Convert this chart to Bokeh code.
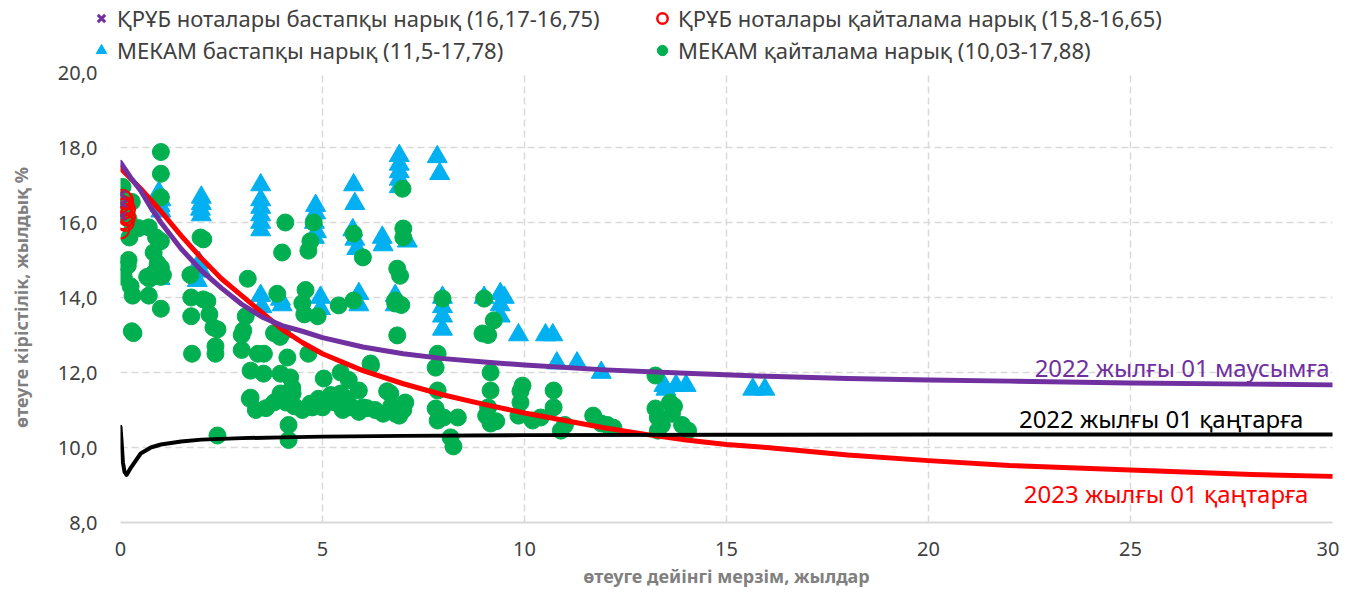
from bokeh.plotting import figure
from bokeh.layouts import column, row
from bokeh.models import Range1d, FixedTicker, Legend, LegendItem, Label
from bokeh.embed import file_html
from bokeh.resources import INLINE

FONT = "Noto Sans"
PURPLE = "#7030a0"
RED = "#ff0000"
BLUE = "#00b0f0"
GREEN = "#00b050"
GRID = "#d9d9d9"

# ---- data ----
notes_primary_x = [0.02, 0.05, 0.03]
notes_primary_y = [16.75, 16.5, 16.17]

notes_secondary_x = [0.05, 0.10, 0.02, 0.12, 0.08, 0.15, 0.05, 0.10, 0.15, 0.08, 0.12, 0.00]
notes_secondary_y = [16.65, 16.60, 16.50, 16.45, 16.40, 16.35, 16.30, 16.20, 16.15, 16.05, 16.00, 15.80]

mekam_primary_x = [0.95, 1.0, 0.98, 1.0, 0.95, 1.0, 0.98,
                   2.0, 2.0, 1.98, 2.0, 1.95, 2.0, 1.9,
                   3.47, 3.47, 3.47, 3.47, 3.47, 3.47, 3.47, 3.5, 3.96, 4.0,
                   4.83, 4.83, 4.8, 4.85, 4.8, 4.95, 4.95,
                   5.77, 5.8, 5.75, 5.8, 5.85, 5.9, 5.9,
                   6.48, 6.5, 7.1,
                   6.9, 6.9, 6.9, 6.9, 6.9, 6.8, 6.8,
                   7.84, 7.9, 7.97, 7.97, 7.97, 7.97,
                   9.0, 9.4, 9.4, 9.4, 9.5,
                   9.85, 10.52, 10.7, 10.8, 11.3, 11.9,
                   13.45, 13.75, 14.0, 13.5, 15.65, 15.95]
mekam_primary_y = [16.8, 16.6, 16.45, 16.3, 14.95, 14.7, 14.5,
                   16.67, 16.5, 16.35, 16.2, 14.93, 14.7, 14.45,
                   17.0, 16.6, 16.4, 16.2, 16.0, 15.8, 14.05, 13.75, 13.95, 13.8,
                   16.45, 16.25, 16.0, 15.75, 15.6, 14.0, 13.7,
                   17.0, 16.5, 15.8, 15.55, 15.3, 14.1, 13.8,
                   15.6, 15.4, 15.5,
                   17.78, 17.55, 17.35, 17.15, 16.95, 14.05, 13.8,
                   17.75, 17.3, 14.0, 13.75, 13.5, 13.15,
                   14.0, 14.1, 13.8, 13.5, 14.0,
                   13.0, 13.0, 13.0, 12.25, 12.25, 12.0,
                   11.65, 11.65, 11.65, 11.55, 11.55, 11.55]

mekam_secondary_x = [0.05, 0.28, 0.08, 0.2, 0.3, 0.22, 0.2, 0.18, 0.08, 0.25, 0.3, 0.32, 0.28,
                     0.7, 0.72, 1.0, 0.92, 0.82, 0.66, 1.0, 1.05, 1.0, 0.88, 1.0, 1.0, 1.0, 0.7, 0.45, 0.82, 1.0,
                     1.73, 1.98, 2.05, 1.75, 2.05, 1.75, 2.2, 2.3, 2.4, 2.35, 2.35, 1.77, 2.15, 2.4,
                     3.15, 3.04, 3.1, 3.0, 3.22, 3.4, 3.55, 3.22, 3.2, 3.35, 3.54, 3.0,
                     3.88, 3.8, 4.0, 4.13, 3.96, 4.2, 4.25, 3.96, 3.8, 4.1, 4.26, 4.16, 4.16, 4.08, 4.0, 3.95, 3.6, 4.3,
                     4.78, 4.7, 4.65, 4.58, 4.5, 4.55, 4.88, 4.65, 5.03, 4.75, 5.0, 4.7, 4.9, 4.5,
                     5.4, 5.77, 5.77, 6.0, 5.45, 5.45, 5.65, 5.9, 5.65, 6.19, 6.2, 6.0, 6.3, 5.3, 5.5, 5.7, 5.9, 6.1, 5.2, 5.6,
                     6.8, 6.85, 6.98, 7.0, 7.0, 6.85, 6.92, 6.8, 6.95, 6.68, 6.8, 6.5, 6.7, 6.9, 7.0, 6.6, 7.05,
                     7.97, 7.85, 7.8, 7.85, 7.8, 7.85, 8.0, 8.35, 8.17, 8.24,
                     9.0, 9.24, 8.96, 9.1, 9.16, 9.16, 9.1, 9.05, 9.16, 9.3, 9.95, 9.9, 9.9, 9.85, 10.2, 10.4, 10.72, 10.72, 10.9, 11.0,
                     11.7, 11.9, 12.05, 12.2,
                     13.24, 13.24, 13.3, 13.6, 13.7, 13.65, 13.9, 14.05, 13.4, 13.3]
mekam_secondary_y = [16.95, 16.55, 16.5, 16.1, 15.85, 15.6, 15.0, 14.85, 14.55, 14.3, 14.05, 13.05, 13.1,
                     14.05, 14.5, 13.7, 14.9, 14.65, 14.55, 14.8, 14.6, 14.55, 15.6, 16.67, 17.3, 17.88, 15.87, 15.85, 15.2, 15.5,
                     14.6, 15.6, 15.55, 14.0, 13.95, 13.5, 13.55, 13.2, 13.15, 12.7, 12.5, 12.5, 13.9, 10.32,
                     14.5, 13.12, 13.5, 12.6, 12.05, 12.5, 12.5, 11.33, 11.3, 11.0, 11.97, 13.0,
                     14.1, 13.05, 13.05, 12.4, 11.97, 11.87, 11.6, 11.44, 11.2, 11.2, 11.44, 10.6, 10.2, 16.0, 15.2, 12.95, 11.05, 11.1,
                     16.0, 15.5, 15.25, 14.2, 13.85, 13.55, 13.5, 12.5, 11.84, 11.07, 11.07, 11.17, 11.3, 11.0,
                     13.79, 13.92, 15.7, 15.07, 12.0, 11.44, 11.8, 11.52, 11.07, 12.24, 12.19, 11.07, 11.0, 11.2, 11.0, 11.1, 10.95, 11.05, 11.4, 11.3,
                     13.84, 12.99, 16.9, 15.84, 15.6, 14.77, 14.58, 13.92, 13.8, 11.44, 10.9, 10.9, 11.1, 10.85, 11.0, 11.5, 11.2,
                     13.97, 12.5, 12.13, 11.52, 11.04, 10.72, 10.8, 10.8, 10.27, 10.03,
                     13.97, 13.39, 13.04, 13.0, 12.0, 11.52, 11.07, 10.85, 10.64, 10.7, 11.65, 11.5, 11.2, 10.85, 10.72, 10.8, 11.52, 11.07, 10.45, 10.6,
                     10.85, 10.64, 10.6, 10.53,
                     11.92, 11.04, 10.8, 11.2, 11.1, 10.9, 10.6, 10.45, 10.6, 10.45]

curve_jun22_x = [0, 0.25, 0.5, 0.75, 1, 1.5, 2, 2.5, 3, 3.5, 4, 4.5, 5, 6, 7, 8, 9, 10, 12, 14, 16, 18, 20, 22, 25, 28, 30]
curve_jun22_y = [17.6, 17.2, 16.85, 16.4, 16.0, 15.3, 14.72, 14.25, 13.82, 13.48, 13.25, 13.1, 12.93, 12.68, 12.5,
                 12.37, 12.28, 12.2, 12.07, 11.98, 11.9, 11.84, 11.8, 11.77, 11.72, 11.69, 11.67]

curve_jan23_x = [0, 0.5, 1, 1.5, 2, 2.5, 3, 3.5, 4, 4.5, 5, 6, 7, 8, 9, 10, 11, 12, 13, 14, 15, 16, 18, 20, 22, 25, 28, 30]
curve_jan23_y = [17.45, 16.9, 16.3, 15.65, 15.05, 14.5, 14.05, 13.6, 13.15, 12.8, 12.5, 12.05, 11.7, 11.4, 11.15,
                 10.92, 10.72, 10.52, 10.35, 10.2, 10.08, 10.0, 9.8, 9.65, 9.52, 9.4, 9.28, 9.23]

curve_jan22_x = [0, 0.03, 0.06, 0.1, 0.15, 0.25, 0.5, 0.75, 1, 1.5, 2, 3, 4, 5, 7, 10, 15, 20, 25, 30]
curve_jan22_y = [10.55, 10.1, 9.6, 9.35, 9.27, 9.45, 9.84, 10.0, 10.08, 10.16, 10.21, 10.25, 10.27, 10.29, 10.31,
                 10.33, 10.34, 10.35, 10.35, 10.35]

x_ticks = [0, 5, 10, 15, 20, 25, 30]
y_ticks = [8, 10, 12, 14, 16, 18, 20]
y_tick_labels = ["8,0", "10,0", "12,0", "14,0", "16,0", "18,0", "20,0"]

legend_labels = ["ҚРҰБ ноталары бастапқы нарық (16,17-16,75)",
                 "ҚРҰБ ноталары қайталама нарық (15,8-16,65)",
                 "МЕКАМ бастапқы нарық (11,5-17,78)",
                 "МЕКАМ қайталама нарық (10,03-17,88)"]
curve_labels = ["2022 жылғы 01 маусымға", "2022 жылғы 01 қаңтарға", "2023 жылғы 01 қаңтарға"]

# ---- main figure ----
p = figure(width=1339, height=528, x_range=Range1d(0, 30), y_range=Range1d(8, 20),
           output_backend="svg", toolbar_location=None,
           min_border_left=120, min_border_right=7, min_border_top=7, min_border_bottom=71)
p.outline_line_color = None
p.background_fill_color = "white"

p.xaxis.ticker = FixedTicker(ticks=x_ticks)
p.yaxis.ticker = FixedTicker(ticks=y_ticks)
p.yaxis.major_label_overrides = {t: l for t, l in zip(y_ticks, y_tick_labels)}

for ax in (p.xaxis, p.yaxis):
    ax.major_tick_line_color = None
    ax.minor_tick_line_color = None
    ax.major_label_text_font = FONT
    ax.major_label_text_font_size = "20px"
    ax.major_label_text_color = "#404040"
    ax.axis_label_text_font = FONT
    ax.axis_label_text_font_size = "18px"
    ax.axis_label_text_font_style = "bold"
    ax.axis_label_text_color = "#808080"

p.yaxis.axis_line_color = None
p.xaxis.axis_line_color = GRID
p.xaxis.axis_line_width = 2
p.yaxis.major_label_standoff = 17
p.xaxis.major_label_standoff = 13
p.yaxis.axis_label = "өтеуге кірістілік, жылдық %"
p.xaxis.axis_label = "өтеуге дейінгі мерзім, жылдар"
p.yaxis.axis_label_standoff = 22
p.xaxis.axis_label_standoff = 5

for g in (p.xgrid, p.ygrid):
    g.grid_line_color = GRID
    g.grid_line_dash = "7 4"
    g.grid_line_width = 1.5

r_tri = p.scatter(mekam_primary_x, mekam_primary_y, marker="triangle", size=20,
                  fill_color=BLUE, line_color=BLUE)
r_circ = p.scatter(mekam_secondary_x, mekam_secondary_y, marker="circle", size=17,
                   fill_color=GREEN, line_color=GREEN)
r_open = p.scatter(notes_secondary_x, notes_secondary_y, marker="circle", size=17,
                   fill_color=None, line_color=RED, line_width=2)
r_x = p.scatter(notes_primary_x, notes_primary_y, marker="x", size=11,
                line_color=PURPLE, line_width=2.5)

p.line(curve_jan23_x, curve_jan23_y, line_color=RED, line_width=5, line_join="round", line_cap="round")
p.line(curve_jan22_x, curve_jan22_y, line_color="black", line_width=4, line_join="round", line_cap="round")
p.line(curve_jun22_x, curve_jun22_y, line_color=PURPLE, line_width=5, line_join="round", line_cap="round")

label_specs = [(29.93, 12.13, PURPLE), (29.28, 10.77, "black"), (29.4, 8.77, RED)]
for txt, (lx, ly, col) in zip(curve_labels, label_specs):
    p.add_layout(Label(x=lx, y=ly, text=txt, text_align="right", text_baseline="middle",
                       text_font=FONT, text_font_size="24px", text_color=col))

# ---- legend strip (its own small figure above the chart) ----
# the key renderers carry the same series, but this strip's ranges keep them out of view
lf = figure(width=1339, height=65, x_range=Range1d(-3, -2), y_range=Range1d(-3, -2),
            output_backend="svg", toolbar_location=None, x_axis_type=None, y_axis_type=None,
            min_border=0)
lf.outline_line_color = None
lk_x = lf.scatter(notes_primary_x, notes_primary_y, marker="x", size=11, line_color=PURPLE, line_width=3)
lk_open = lf.scatter(notes_secondary_x, notes_secondary_y, marker="circle", size=17,
                     fill_color=None, line_color=RED, line_width=2.5)
lk_tri = lf.scatter(mekam_primary_x, mekam_primary_y, marker="triangle", size=20,
                    fill_color=BLUE, line_color=BLUE)
lk_circ = lf.scatter(mekam_secondary_x, mekam_secondary_y, marker="circle", size=17,
                     fill_color=GREEN, line_color=GREEN)


def make_legend(items, loc):
    return Legend(items=items, orientation="horizontal", location=loc,
                  background_fill_alpha=0, border_line_color=None,
                  padding=0, margin=0, spacing=9, glyph_width=26, glyph_height=26,
                  label_height=26, label_width=523, label_standoff=3,
                  label_text_font=FONT, label_text_font_size="22px", label_text_color="#404040")


lf.add_layout(make_legend([LegendItem(label=legend_labels[0], renderers=[lk_x]),
                           LegendItem(label=legend_labels[1], renderers=[lk_open])], (88, 32)))
lf.add_layout(make_legend([LegendItem(label=legend_labels[2], renderers=[lk_tri]),
                           LegendItem(label=legend_labels[3], renderers=[lk_circ])], (88, 0)))

layout = column(row(lf), p, spacing=0)
open("out.html", "w").write(file_html(layout, INLINE))
